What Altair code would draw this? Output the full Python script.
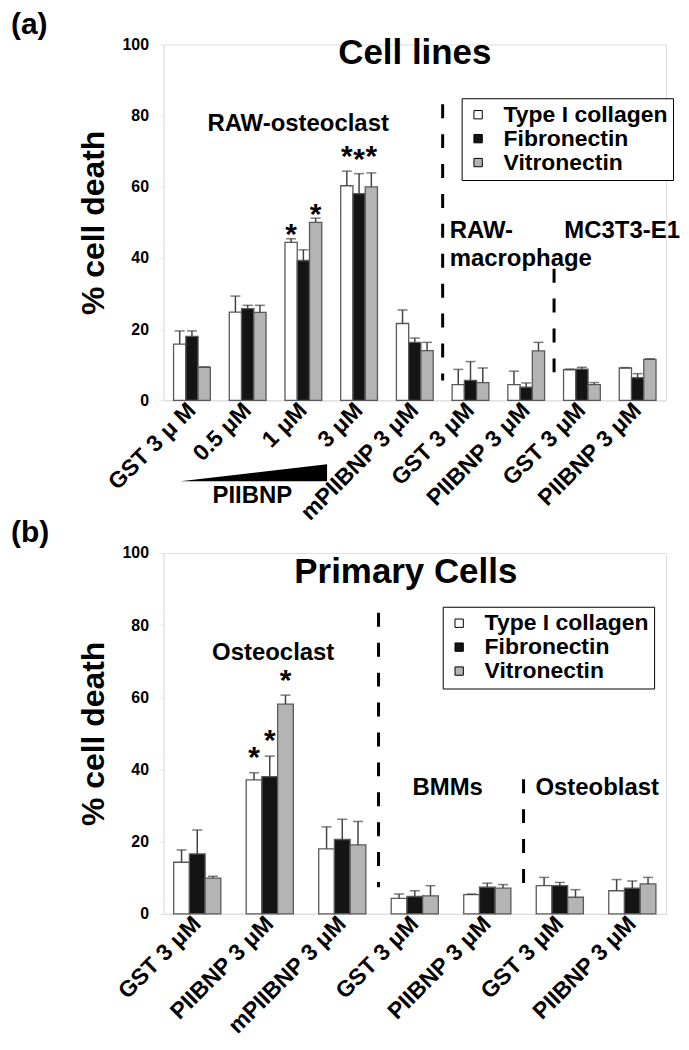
import altair as alt
import pandas as pd

FONT = "Liberation Sans"

substrates = ["Type I collagen", "Fibronectin", "Vitronectin"]
fills = ["#ffffff", "#141414", "#b4b4b4"]

# ---- panel (a): cell lines ----
groups_a = ["GST 3 \u03bc M", "0.5 \u03bcM", "1 \u03bcM", "3 \u03bcM", "mPIIBNP 3 \u03bcM",
            "GST 3 \u03bcM", "PIIBNP 3 \u03bcM", "GST 3 \u03bcM", "PIIBNP 3 \u03bcM"]
collagen_a = [15.8, 24.8, 44.4, 60.3, 21.6, 4.4, 4.4, 8.6, 9.1]
collagen_a_err = [3.7, 4.5, 1.0, 4.1, 3.8, 4.3, 3.8, 0.2, 0.1]
fibronectin_a = [18.0, 25.8, 39.3, 58.1, 16.3, 5.6, 3.7, 8.8, 6.4]
fibronectin_a_err = [1.5, 0.9, 3.0, 5.6, 1.2, 5.3, 1.2, 0.5, 1.1]
vitronectin_a = [9.3, 24.7, 50.0, 60.0, 14.0, 5.0, 13.9, 4.4, 11.5]
vitronectin_a_err = [0.1, 2.0, 1.2, 3.9, 2.3, 4.1, 2.4, 0.6, 0.2]
stars_a_group = [2, 2, 3, 3, 3]
stars_a_sub = ["Type I collagen", "Vitronectin", "Type I collagen", "Fibronectin", "Vitronectin"]
stars_a_y = [48.4, 54.0, 70.2, 69.5, 70.2]
dashes_a_after = [4, 6]          # dashed separator after group index
dashes_a_top = [83.2, 37.0]
dashes_a_bottom = [5.6, 6.2]

# ---- panel (b): primary cells ----
groups_b = ["GST 3 \u03bcM", "PIIBNP 3 \u03bcM", "mPIIBNP 3 \u03bcM", "GST 3 \u03bcM",
            "PIIBNP 3 \u03bcM", "GST 3 \u03bcM", "PIIBNP 3 \u03bcM"]
collagen_b = [14.3, 37.1, 18.0, 4.3, 5.3, 7.8, 6.4]
collagen_b_err = [3.4, 2.0, 6.1, 1.2, 0.2, 2.3, 3.1]
fibronectin_b = [16.6, 38.0, 20.6, 4.8, 7.4, 7.8, 7.1]
fibronectin_b_err = [6.6, 5.7, 5.6, 1.6, 1.1, 0.9, 2.0]
vitronectin_b = [9.9, 58.1, 19.1, 5.0, 7.1, 4.6, 8.3]
vitronectin_b_err = [0.5, 2.5, 6.5, 2.8, 1.0, 2.1, 1.8]
stars_b_group = [1, 1, 1]
stars_b_sub = ["Type I collagen", "Fibronectin", "Vitronectin"]
stars_b_y = [45.2, 49.8, 66.4]
dashes_b_after = [2, 4]
dashes_b_top = [83.4, 37.3]
dashes_b_bottom = [7.4, 6.9]

W = 504


def long_df(vals, errs):
    rows = []
    for s, v, e in zip(substrates, vals, errs):
        for i, (val, er) in enumerate(zip(v, e)):
            rows.append({"g": i, "sub": s, "value": val, "upper": val + er})
    return pd.DataFrame(rows)


def text(t, x, y, size, align="center"):
    return alt.Chart(pd.DataFrame({"t": [t]})).mark_text(
        font=FONT, fontWeight="bold", fontSize=size, align=align,
        baseline="alphabetic", color="black"
    ).encode(text="t:N", x=alt.value(x), y=alt.value(y))


def panel(groups, df, stars, dashes, H, pi, po, leg_x, leg_y, extras):
    n = len(groups)
    label_expr = "[" + ",".join("'%s'" % g for g in groups) + "][datum.value]"
    xscale = alt.Scale(paddingInner=pi, paddingOuter=po)
    xaxis = alt.Axis(title=None, labelExpr=label_expr, labelAngle=-45, labelAlign="right",
                     labelBaseline="middle", labelFont=FONT, labelFontWeight="bold",
                     labelFontSize=23, labelColor="black", labelPadding=6, ticks=False,
                     domainColor="#dddddd", labelLimit=400, labelOverlap=False)
    yaxis = alt.Axis(title="% cell death", values=[0, 20, 40, 60, 80, 100], labelFont=FONT,
                     labelFontWeight="bold", labelFontSize=16, labelColor="black",
                     tickColor="#e8e8e8", tickSize=4, labelPadding=11, domainColor="#e4e4e4",
                     grid=False, titleFont=FONT, titleFontWeight="bold", titleFontSize=32,
                     titleColor="black", titlePadding=12)
    x = alt.X("g:O", scale=xscale, axis=xaxis)
    xo = alt.XOffset("sub:N", sort=substrates, scale=alt.Scale(domain=substrates))
    yt = "% cell death"
    bars = alt.Chart(df).mark_bar(stroke="#5a5a5a", strokeWidth=1.3).encode(
        x=x, xOffset=xo,
        y=alt.Y("value:Q", scale=alt.Scale(domain=[0, 100]), axis=yaxis),
        fill=alt.Fill("sub:N", sort=substrates,
                      scale=alt.Scale(domain=substrates, range=fills),
                      legend=alt.Legend(title=None, orient="none", legendX=leg_x, legendY=leg_y,
                                        direction="vertical", strokeColor="black",
                                        fillColor="white", padding=5, labelFont=FONT,
                                        labelFontWeight="bold", labelFontSize=23,
                                        labelColor="black", symbolType="square",
                                        symbolSize=70, symbolStrokeColor="black",
                                        symbolStrokeWidth=1, labelOffset=14, rowPadding=0,
                                        labelLimit=400)),
    )
    err = alt.Chart(df).mark_rule(color="#444444", strokeWidth=1.5).encode(
        x="g:O", xOffset=xo, y=alt.Y("value:Q", title=yt), y2="upper:Q")
    caps = alt.Chart(df).mark_tick(color="#444444", thickness=1.5, size=10).encode(
        x="g:O", xOffset=xo, y=alt.Y("upper:Q", title=yt))
    st = alt.Chart(stars).mark_text(font=FONT, fontWeight="bold", fontSize=30,
                                    baseline="alphabetic", dy=16, color="black").encode(
        x="g:O", xOffset=xo, y=alt.Y("y:Q", title=yt), text=alt.value("*"))
    layers = [bars, err, caps, st]
    step = W / (n - pi + 2 * po)
    for after, top, bot in dashes:
        px = step * (po + after + 1 - pi / 2)
        layers.append(alt.Chart(pd.DataFrame({"d": [0]})).mark_rule(
            color="black", strokeWidth=3, strokeDash=[14, 16]).encode(
            x=alt.value(px), y=alt.value(H * (1 - top / 100)), y2=alt.value(H * (1 - bot / 100))))
    layers += extras
    return alt.layer(*layers).properties(width=W, height=H)


Ha, Hb = 357, 362

df_a = long_df([collagen_a, fibronectin_a, vitronectin_a],
               [collagen_a_err, fibronectin_a_err, vitronectin_a_err])
df_b = long_df([collagen_b, fibronectin_b, vitronectin_b],
               [collagen_b_err, fibronectin_b_err, vitronectin_b_err])
stars_a = pd.DataFrame({"g": stars_a_group, "sub": stars_a_sub, "y": stars_a_y})
stars_b = pd.DataFrame({"g": stars_b_group, "sub": stars_b_sub, "y": stars_b_y})

wedge = alt.Chart(pd.DataFrame({"d": [0]})).mark_point(
    shape="M -1 0.1156 L 1 -0.1156 L 1 0.1156 Z", size=21609, filled=True,
    color="black", opacity=1, strokeWidth=0).encode(x=alt.value(90.5), y=alt.value(Ha + 72.5))

extras_a = [
    text("(a)", -153, -10, 30, "left"),
    text("(b)", -153, 499, 30, "left"),
    text("Cell lines", 252, 20, 35),
    text("RAW-osteoclast", 135, 87, 24),
    text("RAW-", 287, 194, 24, "left"),
    text("macrophage", 287, 222, 24, "left"),
    text("MC3T3-E1", 402, 194, 24, "left"),
    wedge,
    text("PIIBNP", 89, 460, 24),
]
extras_b = [
    text("Primary Cells", 243, 30, 35),
    text("Osteoclast", 110, 107, 24),
    text("BMMs", 285, 243, 24),
    text("Osteoblast", 373, 243, 24, "left"),
]

pa = panel(groups_a, df_a, stars_a, list(zip(dashes_a_after, dashes_a_top, dashes_a_bottom)),
           Ha, 0.34, 0.18, 299, 54, extras_a)
pb = panel(groups_b, df_b, stars_b, list(zip(dashes_b_after, dashes_b_top, dashes_b_bottom)),
           Hb, 0.35, 0.14, 280, 54, extras_b)

chart = alt.vconcat(pa, pb, spacing=153, bounds="flush",
                    padding={"left": 2, "top": 0, "right": 0, "bottom": 0}).resolve_scale(
    x="independent", y="independent", fill="independent", xOffset="independent"
).resolve_legend(fill="independent").configure_view(stroke=None).configure(font=FONT)

chart.save("out.html", embed_options={"renderer": "svg", "actions": False})
